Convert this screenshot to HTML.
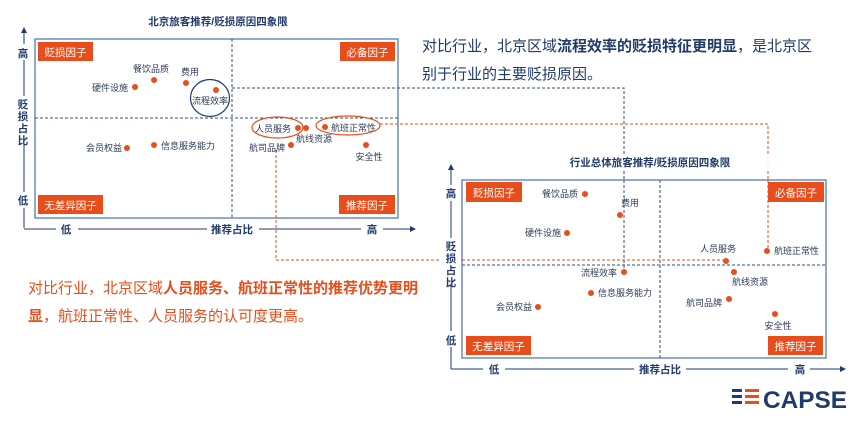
<!DOCTYPE html>
<html><head><meta charset="utf-8"><style>
html,body{margin:0;padding:0;background:#fff;width:861px;height:425px;overflow:hidden}
svg{display:block}
text{font-family:"Liberation Sans","Noto Sans CJK SC",sans-serif}
.t{font-size:9px;fill:#2b3a55}
.tag{font-size:10.5px;fill:#fff}
.ax{font-size:10.5px;fill:#1f3a6b;font-weight:bold}
</style></head><body>
<svg width="861" height="425" viewBox="0 0 861 425" xmlns="http://www.w3.org/2000/svg">
<defs><marker id="ar" markerWidth="6" markerHeight="6" refX="5" refY="3" orient="auto"><path d="M0,0 L6,3 L0,6 z" fill="#1f3a6b"/></marker></defs>

<!-- Chart 1 -->
<text x="218" y="25" text-anchor="middle" class="ax" font-size="10">北京旅客推荐/贬损原因四象限</text>
<rect x="35" y="39" width="363" height="179" fill="none" stroke="#4b6ea8" stroke-width="1.2"/>
<line x1="232" y1="39" x2="232" y2="218" stroke="#2d4f8e" stroke-dasharray="3,2"/>
<line x1="35" y1="118" x2="398" y2="118" stroke="#2d4f8e" stroke-dasharray="3,2"/>
<line x1="24" y1="228" x2="24" y2="28" stroke="#1f3a6b" marker-end="url(#ar)"/>
<line x1="24" y1="229" x2="415" y2="229" stroke="#1f3a6b" marker-end="url(#ar)"/>
<rect x="14" y="44" width="20" height="16" fill="#fff"/><text x="23" y="57" text-anchor="middle" class="ax">高</text>
<rect x="14" y="192" width="20" height="16" fill="#fff"/><text x="23" y="204" text-anchor="middle" class="ax">低</text>
<rect x="14" y="96" width="20" height="46" fill="#fff"/>
<text class="ax" text-anchor="middle"><tspan x="23" y="108">贬</tspan><tspan x="23" y="120">损</tspan><tspan x="23" y="132">占</tspan><tspan x="23" y="144">比</tspan></text>
<rect x="56" y="222" width="22" height="14" fill="#fff"/><text x="66" y="233" text-anchor="middle" class="ax">低</text>
<rect x="207" y="222" width="52" height="14" fill="#fff"/><text x="232" y="233" text-anchor="middle" class="ax">推荐占比</text>
<rect x="361" y="222" width="22" height="14" fill="#fff"/><text x="372" y="233" text-anchor="middle" class="ax">高</text>
<rect x="38" y="42" width="55" height="19" fill="#e84e1b"/><text x="65.5" y="56" text-anchor="middle" class="tag">贬损因子</text>
<rect x="340" y="42" width="55" height="19" fill="#e84e1b"/><text x="367.5" y="56" text-anchor="middle" class="tag">必备因子</text>
<rect x="38" y="195" width="65" height="19" fill="#e84e1b"/><text x="70.5" y="209" text-anchor="middle" class="tag">无差异因子</text>
<rect x="339" y="195" width="56" height="19" fill="#e84e1b"/><text x="367" y="209" text-anchor="middle" class="tag">推荐因子</text>
<g fill="#e84e1b">
<circle cx="135" cy="87" r="3"/><circle cx="154" cy="80" r="3"/><circle cx="186" cy="83" r="3"/><circle cx="216" cy="90" r="3"/>
<circle cx="127" cy="148" r="3"/><circle cx="154" cy="145" r="3"/><circle cx="298" cy="128" r="3"/><circle cx="306" cy="128" r="3"/>
<circle cx="325" cy="127" r="3"/><circle cx="291" cy="145" r="3"/><circle cx="366" cy="145" r="3"/>
</g>
<text class="t" x="128" y="91" text-anchor="end">硬件设施</text>
<text class="t" x="151" y="72" text-anchor="middle">餐饮品质</text>
<text class="t" x="190" y="75" text-anchor="middle">费用</text>
<text class="t" x="210" y="104" text-anchor="middle">流程效率</text>
<ellipse cx="210" cy="98" rx="19.5" ry="18.5" fill="none" stroke="#1f3a6b" stroke-width="1.2"/>
<text class="t" x="122" y="151" text-anchor="end">会员权益</text>
<text class="t" x="161" y="149">信息服务能力</text>
<text class="t" x="273" y="132" text-anchor="middle">人员服务</text>
<ellipse cx="277.5" cy="127.5" rx="25.5" ry="10.5" fill="none" stroke="#e84e1b" stroke-width="1.2"/>
<text class="t" x="314" y="142" text-anchor="middle">航线资源</text>
<text class="t" x="331" y="131">航班正常性</text>
<ellipse cx="348" cy="125.5" rx="32" ry="9.5" fill="none" stroke="#e84e1b" stroke-width="1.2"/>
<text class="t" x="285" y="151" text-anchor="end">航司品牌</text>
<text class="t" x="369" y="160" text-anchor="middle">安全性</text>

<!-- connectors -->
<polyline points="232,88 624,88 624,272" fill="none" stroke="#2d4f8e" stroke-dasharray="3,2"/>
<polyline points="380,124 768,124 768,251" fill="none" stroke="#e84e1b" stroke-dasharray="3,2"/>
<polyline points="276,150 276,260 726,260" fill="none" stroke="#e84e1b" stroke-dasharray="3,2"/>

<!-- text top right -->
<text x="422" y="51" font-size="15" fill="#1f3a6b">对比行业，北京区域<tspan font-weight="bold">流程效率的贬损特征更明显</tspan>，是北京区</text>
<text x="422" y="79" font-size="15" fill="#1f3a6b">别于行业的主要贬损原因。</text>

<!-- text bottom left -->
<text x="28" y="293" font-size="15" fill="#e84e1b">对比行业，北京区域<tspan font-weight="bold">人员服务、航班正常性的推荐优势更明</tspan></text>
<text x="28" y="321" font-size="15" fill="#e84e1b"><tspan font-weight="bold">显</tspan>，航班正常性、人员服务的认可度更高。</text>

<!-- Chart 2 -->
<rect x="470" y="156" width="360" height="14" fill="#fff" opacity="0.9"/>
<text x="650" y="166" text-anchor="middle" class="ax" font-size="10">行业总体旅客推荐/贬损原因四象限</text>
<rect x="462" y="180" width="364" height="178" fill="#fff" stroke="#4b6ea8" stroke-width="1.2"/>
<line x1="660" y1="180" x2="660" y2="358" stroke="#2d4f8e" stroke-dasharray="3,2"/>
<line x1="462" y1="265" x2="826" y2="265" stroke="#2d4f8e" stroke-dasharray="3,2"/>
<line x1="624" y1="180" x2="624" y2="272" stroke="#2d4f8e" stroke-dasharray="3,2"/>
<line x1="768" y1="180" x2="768" y2="251" stroke="#e84e1b" stroke-dasharray="3,2"/>
<line x1="462" y1="260" x2="726" y2="260" stroke="#e84e1b" stroke-dasharray="3,2"/>
<line x1="451" y1="369" x2="451" y2="165" stroke="#1f3a6b" marker-end="url(#ar)"/>
<line x1="451" y1="369" x2="845" y2="369" stroke="#1f3a6b" marker-end="url(#ar)"/>
<rect x="441" y="185" width="20" height="16" fill="#fff"/><text x="451" y="197" text-anchor="middle" class="ax">高</text>
<rect x="441" y="331" width="20" height="16" fill="#fff"/><text x="451" y="344" text-anchor="middle" class="ax">低</text>
<rect x="441" y="238" width="20" height="46" fill="#fff"/>
<text class="ax" text-anchor="middle"><tspan x="451" y="250">贬</tspan><tspan x="451" y="262">损</tspan><tspan x="451" y="274">占</tspan><tspan x="451" y="286">比</tspan></text>
<rect x="483" y="363" width="22" height="14" fill="#fff"/><text x="494" y="373" text-anchor="middle" class="ax">低</text>
<rect x="634" y="363" width="52" height="14" fill="#fff"/><text x="660" y="373" text-anchor="middle" class="ax">推荐占比</text>
<rect x="788" y="363" width="22" height="14" fill="#fff"/><text x="800" y="373" text-anchor="middle" class="ax">高</text>
<rect x="466" y="182" width="56" height="20" fill="#e84e1b"/><text x="494" y="196.5" text-anchor="middle" class="tag">贬损因子</text>
<rect x="768" y="182" width="56" height="20" fill="#e84e1b"/><text x="796" y="196.5" text-anchor="middle" class="tag">必备因子</text>
<rect x="466" y="336" width="65" height="19" fill="#e84e1b"/><text x="498.5" y="350" text-anchor="middle" class="tag">无差异因子</text>
<rect x="768" y="336" width="55" height="19" fill="#e84e1b"/><text x="795.5" y="350" text-anchor="middle" class="tag">推荐因子</text>
<g fill="#e84e1b">
<circle cx="585" cy="194" r="3"/><circle cx="620" cy="215" r="3"/><circle cx="567" cy="233" r="3"/><circle cx="726" cy="261" r="3"/>
<circle cx="767" cy="251" r="3"/><circle cx="624" cy="272" r="3"/><circle cx="734" cy="272" r="3"/><circle cx="591" cy="293" r="3"/>
<circle cx="729" cy="299" r="3"/><circle cx="538" cy="307" r="3"/><circle cx="775" cy="314" r="3"/>
</g>
<text class="t" x="578" y="197" text-anchor="end">餐饮品质</text>
<text class="t" x="630" y="206" text-anchor="middle">费用</text>
<text class="t" x="561" y="236" text-anchor="end">硬件设施</text>
<text class="t" x="718" y="252" text-anchor="middle">人员服务</text>
<text class="t" x="774" y="254">航班正常性</text>
<text class="t" x="617" y="276" text-anchor="end">流程效率</text>
<text class="t" x="750" y="285" text-anchor="middle">航线资源</text>
<text class="t" x="598" y="296">信息服务能力</text>
<text class="t" x="722" y="306" text-anchor="end">航司品牌</text>
<text class="t" x="532" y="310" text-anchor="end">会员权益</text>
<text class="t" x="778" y="329" text-anchor="middle">安全性</text>

<!-- logo -->
<g>
<rect x="732" y="389" width="10" height="3" fill="#1f3a6b"/><rect x="745" y="389" width="14" height="3" fill="#e84e1b"/>
<rect x="732" y="395" width="10" height="3" fill="#1f3a6b"/><rect x="745" y="395" width="14" height="3" fill="#e84e1b"/>
<rect x="732" y="401" width="10" height="3" fill="#1f3a6b"/><rect x="745" y="401" width="14" height="3" fill="#e84e1b"/>
<text x="763" y="408" font-size="24" font-weight="bold" fill="#1f3a6b" textLength="84" lengthAdjust="spacingAndGlyphs">CAPSE</text>
</g>
</svg>
</body></html>
